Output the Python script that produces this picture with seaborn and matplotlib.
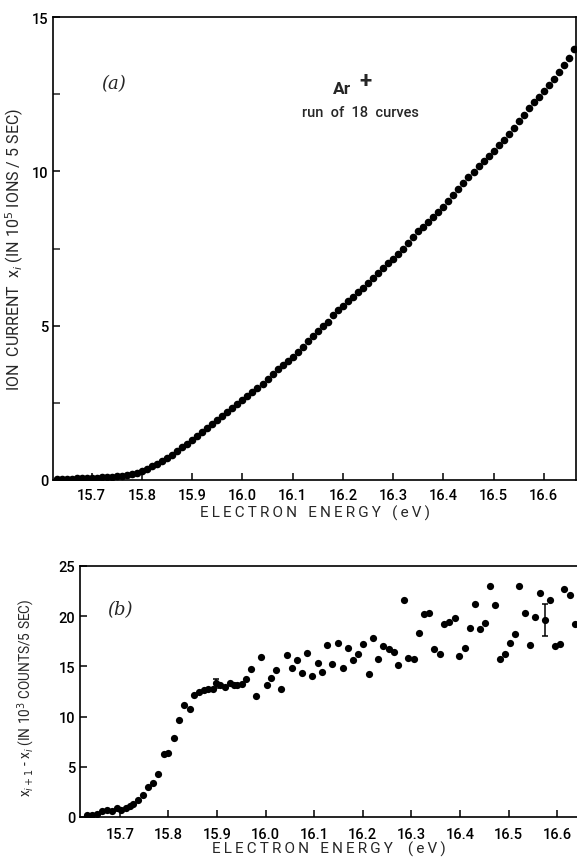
import numpy as np
import pandas as pd
import matplotlib
matplotlib.use("Agg")
import matplotlib.pyplot as plt
import seaborn as sns
from matplotlib.ticker import FormatStrFormatter, MultipleLocator

# (a) ion current, one point every 0.01 eV starting at 15.63 eV (10^5 ions / 5 sec)
current_a = [
    0.02, 0.03, 0.03, 0.04, 0.05, 0.05, 0.06,
    0.07, 0.08, 0.09, 0.10, 0.11, 0.12, 0.14, 0.16, 0.19, 0.24,
    0.30, 0.37, 0.45, 0.53, 0.63, 0.72, 0.82, 0.94, 1.06, 1.17,
    1.28, 1.41, 1.54, 1.67, 1.81, 1.94, 2.07, 2.20, 2.33, 2.46,
    2.59, 2.71, 2.84, 2.97, 3.12, 3.28, 3.43, 3.58, 3.73, 3.86,
    3.99, 4.14, 4.32, 4.51, 4.68, 4.84, 4.98, 5.13, 5.33, 5.52,
    5.65, 5.80, 5.94, 6.09, 6.23, 6.38, 6.54, 6.70, 6.87, 7.02,
    7.17, 7.32, 7.49, 7.68, 7.88, 8.06, 8.21, 8.37, 8.52, 8.69,
    8.86, 9.04, 9.23, 9.43, 9.62, 9.81, 9.99, 10.17, 10.35, 10.51,
    10.67, 10.84, 11.02, 11.22, 11.42, 11.62, 11.83, 12.04, 12.25, 12.42,
    12.60, 12.80, 13.00, 13.22, 13.44, 13.68, 13.95,
]
energy_a = np.round(15.63 + 0.01 * np.arange(len(current_a)), 2)

# (b) differences x_{i+1} - x_i (10^3 counts / 5 sec)
energy_b = [
    15.632, 15.643, 15.653, 15.663, 15.674, 15.683, 15.694, 15.703, 15.712, 15.720,
    15.727, 15.737, 15.748, 15.758, 15.768, 15.779, 15.790, 15.799, 15.811, 15.822,
    15.832, 15.844, 15.853, 15.863, 15.873, 15.882, 15.891, 15.898, 15.907, 15.916,
    15.926, 15.934, 15.942, 15.951, 15.959, 15.970, 15.980, 15.991, 16.002, 16.011,
    16.022, 16.032, 16.044, 16.054, 16.064, 16.074, 16.085, 16.096, 16.107, 16.116,
    16.127, 16.137, 16.149, 16.159, 16.169, 16.179, 16.190, 16.201, 16.212, 16.221,
    16.232, 16.242, 16.254, 16.264, 16.273, 16.284, 16.294, 16.306, 16.315, 16.326,
    16.337, 16.347, 16.358, 16.368, 16.378, 16.389, 16.399, 16.410, 16.420, 16.431,
    16.442, 16.451, 16.461, 16.472, 16.483, 16.493, 16.503, 16.514, 16.522, 16.534,
    16.544, 16.555, 16.565, 16.575, 16.586, 16.596, 16.606, 16.615, 16.627, 16.637,
]
diff_b = [
    0.23, 0.23, 0.25, 0.63, 0.73, 0.63, 0.89, 0.73, 0.93, 1.09,
    1.26, 1.72, 2.22, 2.95, 3.42, 4.25, 6.27, 6.37, 7.90, 9.65,
    11.15, 10.80, 12.20, 12.45, 12.60, 12.75, 12.70, 13.30, 13.15, 12.90,
    13.30, 13.15, 13.15, 13.21, 13.74, 14.77, 12.05, 15.93, 13.18, 13.81,
    14.67, 12.78, 16.13, 14.80, 15.67, 14.37, 16.36, 14.07, 15.37, 14.47,
    17.16, 15.24, 17.29, 14.87, 16.80, 15.67, 16.20, 17.23, 14.21, 17.83,
    15.70, 17.06, 16.70, 16.43, 15.10, 21.58, 15.83, 15.77, 18.36, 20.18,
    20.32, 16.76, 16.20, 19.22, 19.42, 19.78, 16.03, 16.80, 18.82, 21.21,
    18.72, 19.35, 22.97, 21.08, 15.73, 16.23, 17.29, 18.22, 22.97, 20.35,
    17.16, 19.88, 22.34, 19.62, 21.58, 17.00, 17.23, 22.67, 22.07, 19.19,
]
err_energy = [15.898, 16.575]
err_value = [13.30, 19.62]
err_half = [0.45, 1.63]

xticks = [15.7, 15.8, 15.9, 16.0, 16.1, 16.2, 16.3, 16.4, 16.5, 16.6]


def spaced(s):
    # lettering in the original is widely tracked
    return "\u2009".join(s)


df_a = pd.DataFrame({"energy": energy_a, "current": current_a})
df_b = pd.DataFrame({"energy": energy_b, "diff": diff_b})

sns.set_style("ticks")
plt.rcParams["font.family"] = ["Roboto", "DejaVu Sans"]
plt.rcParams["font.weight"] = "medium"
plt.rcParams["axes.linewidth"] = 1.2

fig = plt.figure(figsize=(5.77, 8.62), dpi=100)
ax_a = fig.add_axes([53 / 577, 1 - 481 / 862, 523 / 577, 463 / 862])
ax_b = fig.add_axes([80 / 577, 1 - 818 / 862, 498 / 577, 251 / 862])

sns.scatterplot(data=df_a, x="energy", y="current", ax=ax_a, color="black",
                s=30, linewidth=0, marker="o")
sns.scatterplot(data=df_b, x="energy", y="diff", ax=ax_b, color="black",
                s=27, linewidth=0, marker="o")
ax_b.errorbar(err_energy, err_value, yerr=err_half, fmt="none", ecolor="black",
              elinewidth=1.1, capsize=2, capthick=1.1)

for ax in (ax_a, ax_b):
    for sp in ax.spines.values():
        sp.set_visible(True)
        sp.set_color("black")
    ax.set_xticks(xticks)
    ax.xaxis.set_major_formatter(FormatStrFormatter("%.1f"))
    ax.tick_params(direction="in", length=5, width=1.1, colors="black",
                   labelsize=10.5, top=False, right=False)

ax_a.set_xlim(15.623, 16.664)
ax_a.set_ylim(0, 15)
ax_a.set_yticks([0, 5, 10, 15])
ax_a.yaxis.set_minor_locator(MultipleLocator(2.5))
ax_a.tick_params(axis="y", which="minor", direction="in", length=5, width=1.1)
ax_a.tick_params(axis="x", pad=6)
ax_a.set_xlabel(spaced("ELECTRON") + "   " + spaced("ENERGY") + "   " + spaced("(eV)"),
                fontsize=11, labelpad=2)
ax_a.set_ylabel(r"ION  CURRENT  x$_i$ (IN 10$^5$ IONS / 5 SEC)", fontsize=11.5)
ax_a.yaxis.set_label_coords(-0.052, 0.5)

ax_b.set_xlim(15.618, 16.643)
ax_b.set_ylim(0, 25)
ax_b.set_yticks([0, 5, 10, 15, 20, 25])
ax_b.tick_params(axis="x", pad=7)
ax_b.set_xlabel(spaced("ELECTRON") + "   " + spaced("ENERGY") + "    " + spaced("(eV)"),
                fontsize=11, labelpad=0)
ax_b.set_ylabel(r"x$_{i+1}$ - x$_i$ (IN 10$^3$ COUNTS/5 SEC)", fontsize=9.8)
ax_b.yaxis.set_label_coords(-0.086, 0.48)

ax_a.text(0.115, 0.857, "(a)", transform=ax_a.transAxes, fontsize=13,
          family="DejaVu Serif", style="italic", ha="center", va="center")
ax_a.text(0.553, 0.845, "Ar", transform=ax_a.transAxes, fontsize=12.5,
          fontweight="bold", ha="center", va="center")
ax_a.text(0.598, 0.862, "+", transform=ax_a.transAxes, fontsize=16,
          fontweight="bold", ha="center", va="center")
ax_a.text(0.587, 0.795, "run  of  18  curves", transform=ax_a.transAxes,
          fontsize=10.5, ha="center", va="center")
ax_b.text(0.08, 0.83, "(b)", transform=ax_b.transAxes, fontsize=13,
          family="DejaVu Serif", style="italic", ha="center", va="center")

fig.savefig("out.png", dpi=100)
